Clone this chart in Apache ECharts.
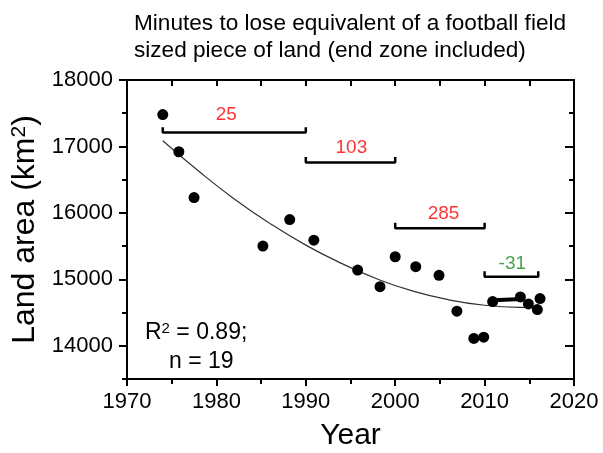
<!DOCTYPE html>
<html><head><meta charset="utf-8">
<script src="https://cdn.jsdelivr.net/npm/echarts@6/dist/echarts.min.js"></script>
<style>html,body{margin:0;padding:0;background:#fff}#c{width:603px;height:453px}</style>
</head><body><div id="c"></div>
<script>
// Observed data points
const years = [1974, 1975.8, 1977.5, 1985.2, 1988.2, 1990.9, 1995.8, 1998.3, 2000.0, 2002.3, 2004.9, 2006.9, 2008.8, 2009.9, 2010.9, 2014.0, 2014.9, 2015.9, 2016.2];
const landArea = [17480, 16920, 16230, 15500, 15900, 15590, 15140, 14890, 15340, 15190, 15060, 14520, 14110, 14130, 14665, 14735, 14630, 14545, 14710];
// Fitted curve
const fitYears = [1974, 1978, 1982, 1986, 1990, 1994, 1998, 2002, 2006, 2010, 2014, 2016];
const fitArea = [17085, 16630, 16210, 15840, 15515, 15240, 15005, 14822, 14692, 14610, 14578, 14576];
// Short thick segment (recent period)
const recentYears = [2010.9, 2014.2];
const recentArea = [14685, 14705];
// Period brackets
const bracketStart = [1974, 1990, 2000, 2010];
const bracketEnd = [1990, 2000, 2010, 2016];
const bracketLevel = [17210, 16760, 15770, 15040];
const bracketLabel = ['25', '103', '285', '-31'];
const labelYear = [1981.1, 1995.1, 2005.4, 2013.1];
const labelArea = [17470, 16980, 15990, 15240];
// Axis ticks
const xMin = 1970, xMax = 2020, xStep = 10;
const yMin = 13500, yMax = 18000, yStep = 500;
const yMajorValues = [14000, 15000, 16000, 17000, 18000];

const FONT = '"Liberation Sans", Arial, sans-serif';
const labelColors = ['#ff0000', '#ff0000', '#ff0000', '#1a8a1a'];
const tickUp = 80;

const series = [];
bracketStart.forEach((s, i) => {
  series.push({
    type: 'line', xAxisIndex: 0, yAxisIndex: 0, silent: true, symbol: 'none',
    lineStyle: {color: '#000', width: 2.5}, z: 3,
    data: [[s, bracketLevel[i] + tickUp], [s, bracketLevel[i]], [bracketEnd[i], bracketLevel[i]], [bracketEnd[i], bracketLevel[i] + tickUp]]
  });
  series.push({
    type: 'scatter', xAxisIndex: 0, yAxisIndex: 0, silent: true, symbolSize: 0,
    data: [[labelYear[i], labelArea[i]]],
    label: {show: true, position: 'inside', formatter: bracketLabel[i], color: labelColors[i], fontSize: 19, fontFamily: FONT}
  });
});
series.push({
  type: 'line', xAxisIndex: 0, yAxisIndex: 0, silent: true, symbol: 'none', smooth: true,
  lineStyle: {color: '#333', width: 1.2}, z: 2,
  data: fitYears.map((x, i) => [x, fitArea[i]])
});
series.push({
  type: 'line', xAxisIndex: 0, yAxisIndex: 0, silent: true, symbol: 'none',
  lineStyle: {color: '#000', width: 4}, z: 4,
  data: recentYears.map((x, i) => [x, recentArea[i]])
});
series.push({
  type: 'scatter', xAxisIndex: 0, yAxisIndex: 0, symbolSize: 11, z: 5,
  itemStyle: {color: '#000', opacity: 1},
  data: years.map((x, i) => [x, landArea[i]])
});

const black = {color: '#000', width: 2};
const baseX = {
  type: 'value', min: xMin, max: xMax, interval: xStep,
  splitLine: {show: false},
  axisLine: {show: true, onZero: false, lineStyle: black},
};
const baseY = {
  type: 'value', min: yMin, max: yMax, interval: yStep,
  splitLine: {show: false}, minorTick: {show: false},
  axisLine: {show: true, onZero: false, lineStyle: black},
  axisLabel: {show: false}
};

const option = {
  animation: false,
  backgroundColor: '#fff',
  grid: {left: 127, right: 29, top: 80, bottom: 74, containLabel: false, outerBoundsMode: 'none'},
  title: {
    text: 'Minutes to lose equivalent of a football field\nsized piece of land (end zone included)',
    left: 129, top: 5,
    textStyle: {fontFamily: FONT, fontSize: 22.6, fontWeight: 'normal', color: '#000', lineHeight: 27}
  },
  xAxis: [
    Object.assign({}, baseX, {
      position: 'bottom',
      name: 'Year', nameLocation: 'middle', nameGap: 42,
      nameTextStyle: {fontFamily: FONT, fontSize: 30, color: '#000'},
      axisTick: {show: true, inside: false, length: 7, lineStyle: black},
      minorTick: {show: true, splitNumber: 2, length: 5, lineStyle: black},
      axisLabel: {show: true, margin: 12, fontFamily: FONT, fontSize: 22, color: '#000', formatter: v => String(v)}
    }),
    Object.assign({}, baseX, {
      position: 'top',
      axisTick: {show: true, inside: true, length: 6, lineStyle: black},
      minorTick: {show: true, splitNumber: 2, length: 6, lineStyle: black},
      axisLabel: {show: false}
    })
  ],
  yAxis: [
    Object.assign({}, baseY, {
      position: 'left',
      name: '{n|Land area (km}{s|2}{n|)}', nameLocation: 'middle', nameGap: 68, nameRotate: 90,
      nameTextStyle: {fontFamily: FONT, fontSize: 32, color: '#000',
        rich: {n: {fontFamily: FONT, fontSize: 32, color: '#000', verticalAlign: 'bottom'},
               s: {fontFamily: FONT, fontSize: 21, color: '#000', verticalAlign: 'top'}}},
      axisTick: {show: true, inside: false, length: 8, lineStyle: black, customValues: yMajorValues},
      axisLabel: {show: true, margin: 14, fontFamily: FONT, fontSize: 22, color: '#000',
        customValues: yMajorValues, formatter: v => String(v)}
    }),
    Object.assign({}, baseY, {
      position: 'right',
      axisTick: {show: true, inside: true, length: 9, lineStyle: black, customValues: yMajorValues}
    }),
    Object.assign({}, baseY, {
      position: 'left', offset: 0,
      axisTick: {show: true, inside: false, length: 5, lineStyle: black}
    }),
    Object.assign({}, baseY, {
      position: 'right', offset: 0,
      axisTick: {show: true, inside: true, length: 5, lineStyle: black}
    })
  ],
  graphic: [
    {type: 'text', left: 145, top: 321, style: {
      text: '{n|R}{s|2}{n| = 0.89;}', fontFamily: FONT,
      rich: {n: {fontFamily: FONT, fontSize: 23, color: '#000', verticalAlign: 'bottom'},
             s: {fontFamily: FONT, fontSize: 15, color: '#000', verticalAlign: 'top'}}}},
    {type: 'text', left: 169, top: 350, style: {text: 'n = 19', fontFamily: FONT, fontSize: 23, fill: '#000'}}
  ],
  series: series
};
const chart = echarts.init(document.getElementById('c'), null, {renderer: 'canvas'});
chart.setOption(option);
</script></body></html>
